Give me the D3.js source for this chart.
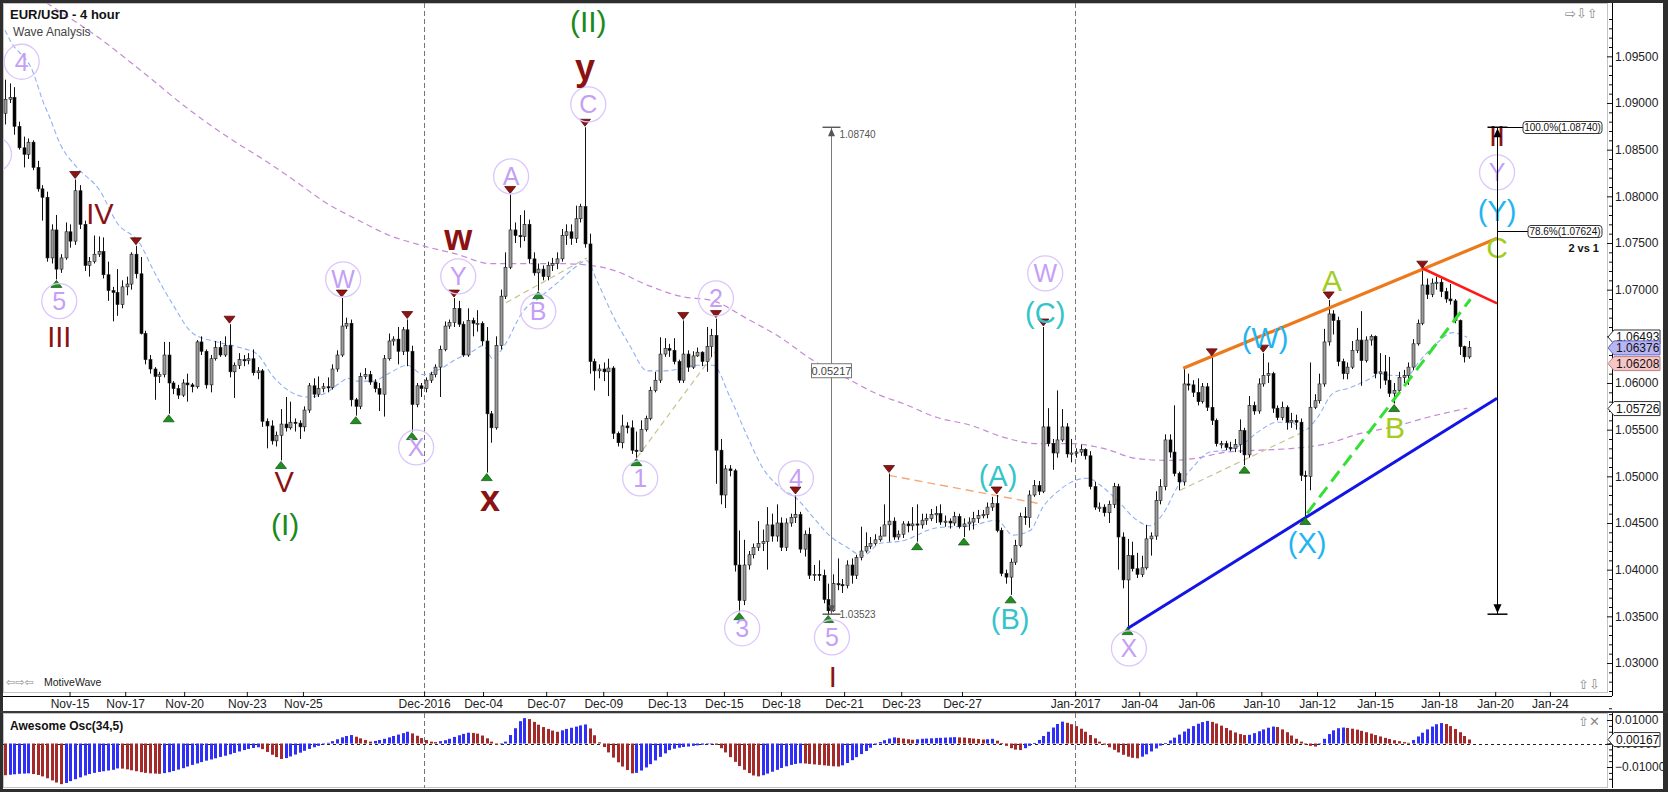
<!DOCTYPE html>
<html><head><meta charset="utf-8"><title>EUR/USD - 4 hour</title>
<script src="https://cdn.jsdelivr.net/npm/d3@7/dist/d3.min.js"></script>
<style>html,body{margin:0;padding:0;background:#fff;overflow:hidden}svg{display:block}</style>
</head><body><svg id="chart" width="1668" height="792"></svg>
<script>
// ---------------- DATA (prices in points above 1.0000, i.e. 904 = 1.0904) ----------------
const firstOpen = 889;
const closes = [
904,906,875,852,845,858,831,808,799,734,
764,722,734,762,752,806,770,726,730,738,
741,716,699,697,684,703,706,738,717,653,
625,615,607,609,630,600,594,587,600,598,
596,644,634,598,626,638,630,640,612,619,
625,624,626,611,613,559,554,538,544,556,
552,558,557,553,571,597,588,594,596,595,
615,630,661,664,582,575,607,609,601,594,
588,626,645,647,634,657,634,577,597,594,
603,609,617,636,661,665,680,663,630,667,
664,664,645,567,552,640,693,724,764,758,
757,770,733,718,722,714,726,728,733,758,
762,755,776,789,749,623,613,615,612,616,
546,536,554,552,528,527,550,562,592,603,
631,637,635,623,603,631,617,629,633,623,
639,651,528,480,508,506,405,367,405,416,
424,428,430,448,436,450,424,450,456,459,
422,438,394,395,394,368,356,385,384,383,
405,394,413,420,425,428,432,436,448,452,
435,438,449,447,449,448,453,455,459,460,
451,452,450,457,446,449,451,455,458,459,
467,471,442,396,392,408,426,457,456,480,
490,484,553,535,525,539,553,524,525,526,
529,522,489,467,467,461,470,489,435,389,
415,401,395,402,433,436,474,489,539,526,
503,494,599,598,590,580,596,574,560,535,
535,531,530,534,549,523,576,570,599,608,
610,573,563,574,558,560,558,501,500,574,
581,599,644,674,667,623,610,617,635,646,
624,646,650,610,612,603,589,592,606,608,
617,642,664,705,695,707,708,698,690,688,
667,639,628,638];
const highs = [
925,921,917,880,864,862,860,838,812,805,
770,780,738,772,770,818,812,774,735,758,
757,756,730,703,722,710,714,740,747,735,
656,630,617,612,644,644,602,598,604,610,
600,646,650,636,630,645,645,650,663,622,
632,630,632,636,617,615,562,560,548,572,
585,580,562,560,575,600,605,607,600,606,
620,635,691,670,668,584,611,616,613,604,
600,630,653,650,660,660,668,640,600,600,
606,612,620,640,666,668,691,688,666,680,
670,678,666,660,570,650,700,740,802,772,
780,785,775,740,728,726,730,734,740,765,
770,770,790,792,874,760,626,620,622,626,
618,548,566,558,560,548,560,565,596,612,
649,648,642,648,625,667,635,634,638,634,
660,658,669,540,512,512,508,442,432,420,
428,452,443,467,460,470,456,455,460,480,
462,442,445,405,410,400,385,395,412,390,
410,412,416,446,440,435,438,446,470,503,
456,442,452,452,467,470,460,460,465,468,
470,458,455,462,460,455,456,462,464,464,
472,478,480,445,400,412,432,461,467,485,
496,495,660,573,540,592,572,557,540,530,
534,530,527,494,472,470,474,493,492,440,
433,430,418,415,448,440,484,497,545,545,
576,505,615,610,603,605,600,600,628,562,
538,538,537,540,561,552,586,580,605,632,
622,612,576,580,576,568,566,562,506,622,
588,610,658,689,678,671,626,622,645,659,
677,650,652,651,632,630,628,600,612,614,
622,647,668,722,712,712,714,712,702,706,
690,668,640,645];
const lows = [
877,900,866,850,831,840,828,805,774,730,
728,711,718,732,745,748,765,720,714,728,
735,712,688,666,672,680,694,700,712,652,
620,610,582,600,606,567,588,583,585,580,
590,594,630,594,590,624,628,628,606,584,
615,618,620,608,604,553,530,534,532,517,
548,550,548,540,548,568,584,585,590,590,
593,612,628,658,575,565,572,604,598,590,
570,564,624,640,620,630,618,548,574,585,
590,600,606,585,634,658,660,660,628,628,
650,655,640,504,536,550,636,690,722,750,
745,752,728,715,699,710,710,720,722,730,
748,748,750,772,745,610,592,605,602,586,
540,532,530,546,524,520,526,548,560,590,
600,628,628,620,600,600,612,615,628,618,
612,628,492,470,466,500,398,355,362,400,
412,420,420,400,430,430,420,420,446,450,
418,414,390,388,388,364,352,355,378,375,
380,385,390,410,418,422,426,430,438,430,
432,432,434,440,442,430,444,448,452,450,
448,446,444,447,444,435,442,443,450,455,
455,463,440,393,385,373,405,424,448,445,
478,480,482,532,507,520,537,520,515,520,
522,518,486,464,462,457,450,466,400,380,
339,398,391,392,400,415,432,470,485,520,
500,485,490,592,585,576,578,570,555,532,
530,528,527,526,525,512,520,566,567,596,
600,568,560,560,550,552,550,495,457,485,
572,578,596,640,652,618,604,604,615,632,
597,622,640,605,594,598,585,578,590,600,
598,614,640,662,690,692,700,692,686,684,
664,630,622,626];
// Awesome Oscillator (34,5), in units of 0.001
const aoValues = [
-13.5,-13.3,-13.1,-12.9,-12.8,-12.7,-13.0,-13.4,-14.0,-14.8,
-15.7,-16.6,-17.3,-16.8,-16.0,-15.2,-14.4,-13.6,-13.0,-12.5,
-12.1,-11.8,-11.5,-11.2,-10.6,-10.7,-11.0,-11.4,-11.8,-12.2,
-12.5,-12.7,-12.8,-12.9,-12.6,-12.2,-11.7,-11.1,-10.5,-9.8,
-9.1,-8.5,-7.9,-7.3,-6.8,-6.3,-5.7,-5.2,-4.6,-4.0,
-3.4,-2.8,-2.3,-1.9,-1.6,-2.4,-3.6,-4.8,-5.8,-6.6,
-6.2,-5.5,-4.7,-3.9,-3.1,-2.3,-1.6,-1.0,-0.4,0.3,
1.0,1.8,2.6,3.2,3.6,2.9,2.2,1.5,0.8,1.1,
1.5,2.0,2.6,3.2,3.8,4.4,5.0,4.3,3.3,2.3,
1.5,0.8,0.6,1.0,1.4,2.0,2.8,3.5,4.1,4.6,
4.5,4.2,3.4,2.2,0.8,-0.6,-0.2,0.8,3.6,6.5,
9.5,10.8,10.4,9.2,8.0,7.0,6.2,5.5,5.0,5.6,
6.2,6.7,7.2,7.7,8.1,6.4,3.5,0.5,-1.5,-3.8,
-6.0,-8.0,-9.8,-11.3,-12.7,-12.5,-11.5,-10.2,-8.8,-7.2,
-5.7,-4.2,-2.8,-2.2,-1.8,-1.5,-1.3,-1.0,-0.8,-0.5,
-0.3,0.0,-0.6,-2.0,-3.8,-5.8,-7.8,-9.6,-11.2,-12.6,
-13.6,-14.0,-13.5,-12.8,-12.0,-11.2,-10.4,-9.7,-9.1,-8.7,
-8.4,-8.5,-8.7,-8.9,-9.1,-9.3,-9.5,-9.7,-9.8,-9.3,
-8.3,-7.1,-5.8,-4.5,-3.2,-1.8,-0.5,0.6,1.4,2.1,
2.6,2.4,2.1,1.8,1.6,1.8,2.0,2.1,2.2,2.3,
2.4,2.5,2.6,2.7,2.6,2.5,2.3,2.1,1.9,1.7,
1.8,2.0,1.2,0.2,-1.0,-2.0,-2.6,-2.8,-2.0,-1.0,
0.2,1.5,3.2,5.0,6.8,8.3,9.3,8.8,8.2,7.4,
6.3,5.0,3.6,2.2,0.8,-0.5,-1.6,-2.7,-3.8,-4.8,
-5.6,-6.1,-6.3,-5.6,-4.6,-3.4,-2.1,-0.9,0.2,1.3,
2.5,3.8,5.1,6.3,7.4,8.4,9.1,9.6,9.2,8.5,
7.6,6.6,5.6,4.7,4.0,3.6,3.7,4.4,5.2,6.0,
6.7,7.2,7.0,6.0,4.8,3.4,2.0,0.8,-0.4,-1.0,
-1.3,-0.2,2.0,4.0,5.6,6.5,6.8,6.6,6.3,5.9,
5.4,4.8,4.2,3.6,3.0,2.4,1.9,1.4,1.0,0.6,
0.3,1.5,3.0,4.6,6.0,7.2,8.2,8.7,8.3,7.4,
6.2,4.8,3.2,1.7];
// moving averages: [bar index, points]
const fastMA = [[0,978],[1.1,967],[6,933],[8.1,902],[9.6,884],[11.8,856],[15.4,831],[20.3,806],[23.9,772],[28.9,749],[31.6,722],[35.9,684],[40.2,653],[45.3,644],[50.2,638],[53.9,631],[57.3,607],[60.9,591],[64.6,585],[68,588],[71.6,600],[73.3,605],[75.3,602],[78.7,602],[82.3,611],[86,619],[89.4,609],[93,615],[96.6,626],[100,634],[102.2,640],[104.3,626],[106.5,638],[110.8,677],[114.4,692],[118,707],[121.4,722],[124.4,731],[126.6,709],[130,672],[133.6,640],[137.3,613],[140.7,613],[144.3,615],[148,619],[151.4,619],[155,585],[158.6,544],[162,509],[165.7,488],[169.3,476],[172.8,456],[176.4,436],[180,424],[183.4,415],[187,428],[192,431],[199.3,445],[206.3,447],[212.1,453],[215.5,437],[219.2,442],[221.9,467],[224.9,483],[227.7,493],[231.3,498],[234.8,488],[238.4,471],[242,453],[244.8,447],[247.6,460],[250.6,488],[254,510],[257.6,526],[261.3,528],[264.7,535],[268.3,549],[272,558],[275.4,557],[277.6,549],[280.6,563],[283.9,589],[287.6,595],[291.2,603],[294,610],[296.8,608],[299.8,608],[302.5,624],[306.2,643],[309.5,654],[312.6,649]];
const slowMA = [[0,1037],[9,1007],[20.3,969],[29.5,933],[39.6,892],[48.7,860],[56,837],[63,813],[68,795],[75.3,775],[82.3,758],[89.4,747],[96.6,738],[103.7,728],[110.8,728],[118,728],[123,727],[130,721],[137.3,705],[144.3,693],[151.4,688],[158.6,669],[165.7,649],[172.8,624],[180,605],[187,587],[192,578],[199.3,563],[206.3,555],[213.4,542],[220.7,535],[227.7,535],[234.8,530],[242,519],[249,517],[254,519],[261.3,526],[268.3,528],[275.4,530],[282.7,535],[289.8,546],[296.8,553],[304,563],[312.6,573]];
// time axis
const dateTickIdx = [13.8,25.7,38.3,51.7,63.7,89.6,102.2,115.7,127.9,141.5,153.7,165.9,179.4,191.6,204.6,228.8,242.5,254.7,268.6,280.5,292.9,306.6,318.6,330.3];
const dateTickLbl = ["Nov-15","Nov-17","Nov-20","Nov-23","Nov-25","Dec-2016","Dec-04","Dec-07","Dec-09","Dec-13","Dec-15","Dec-18","Dec-21","Dec-23","Dec-27","Jan-2017","Jan-04","Jan-06","Jan-10","Jan-12","Jan-15","Jan-18","Jan-20","Jan-24"];
const periodBreaks = ["Dec-2016","Jan-2017"];
const priceTicks = [1.03,1.035,1.04,1.045,1.05,1.055,1.06,1.065,1.07,1.075,1.08,1.085,1.09,1.095];
const oscTicks = [-0.01,0,0.01];
// swing markers (bar indices)
const highMarks = [15,28,48,72,86,96,108,124,145,152,169,189,212,222,258,269,283,303];
const lowMarks = [11,35,59,75,87,103,114,135,157,176,195,205,215,240,265,278,297];
// wave labels: [text, bar index, points]
const wavesCircled = [["4",3.57,944.2],["5",11.6,687.8],["W",72.3,711.1],["X",87.9,531.1],["Y",96.9,714.3],["A",108.2,821.4],["B",114,676.8],["C",124.7,898.6],["1",135.8,497.9],["2",152,690.7],["3",157.6,337.2],["4",169.1,497.9],["5",176.8,327.5],["W",222.4,717.5],["X",240.3,315.7],["Y",319,825.7]];
const circleOnly = [[-2.35,845]]; // label circle cut by the left edge
const wavesPrimary = [["III",11.6,649.6],["IV",20.3,781.8],["V",59.7,494.7],["I",177,285.7],["II",319,865.4]];
const wavesMinorLower = [["w",96.9,752.9],["x",103.7,473.2],["y",124,935]];
const wavesCycle = [["(I)",59.9,448.6],["(II)",124.7,987.5]];
const wavesABC = [["(A)",212.3,501.1],["(B)",214.9,347.9],["(C)",222.4,675.7]];
const wavesWXY = [["(W)",269.4,648.9],["(X)",278.4,429.3],["(Y)",319,785]];
const wavesSub = [["A",283.7,710],["B",297.2,552.5],["C",319,745.4]];
// trend lines: [[i1,p1],[i2,p2]]
const lineUpper = [[251.9,615.7],[319,755]];
const lineRed = [[303,722.9],[319,685.3]];
const lineGreen = [[278.4,460.4],[313.3,689.7]];
const lineBlue = [[240,337],[319,583.6]];
const tanLines = [[[107.1,686],[124.4,734]],[[135.1,520],[152.4,637]],[[251.2,485],[276.9,546]]];
const salmonLine = [[189,501],[220.9,471]];
// measurements
const measureIdx = 176.6, measureTop = 1.08740, measureBot = 1.03523, measureText = "0.05217";
const projIdx = 319;
const fibLevels = [{lbl:"100.0%(1.08740)", v:1.08740},{lbl:"78.6%(1.07624)", v:1.07624}];
const rightPriceVals = [1.06493,1.06376,1.06208,1.05726];
const oscLastVal = 0.00167;

// ---------------- DRAWING ----------------
const FONT = '"Liberation Sans", Arial, Helvetica, sans-serif';
const svg = d3.select("#chart").style("font-family", FONT);
const P = v => 1 + v / 10000;
const N = closes.length;
const x = d3.scaleLinear().domain([0, N - 1]).range([5, 1469]);
const y = d3.scaleLinear().domain([1.03, 1.095]).range([663, 56.33]);
const yo = d3.scaleLinear().domain([-0.01, 0.01]).range([767, 720]);
const PL = 3, PR = 1607, PT = 3, PB = 692, AX = 1612, XA = 696, OT = 713, OB = 788;

svg.append("rect").attr("width", 1668).attr("height", 792).attr("fill", "#fff");
const defs = svg.append("defs");
defs.append("clipPath").attr("id", "clipP").append("rect").attr("x", PL).attr("y", PT).attr("width", PR - PL).attr("height", PB - PT);
defs.append("clipPath").attr("id", "clipO").append("rect").attr("x", PL).attr("y", OT).attr("width", PR - PL).attr("height", OB - OT);

// frames
svg.append("rect").attr("x", PL + 0.5).attr("y", PT + 0.5).attr("width", PR - PL).attr("height", PB - PT).attr("fill", "none").attr("stroke", "#c4c4c4");
svg.append("rect").attr("x", PL + 0.5).attr("y", OT + 0.5).attr("width", PR - PL).attr("height", OB - OT - 1).attr("fill", "none").attr("stroke", "#c4c4c4");

const gP = svg.append("g").attr("clip-path", "url(#clipP)");
const gO = svg.append("g").attr("clip-path", "url(#clipO)");

// period separators
periodBreaks.forEach(lbl => {
  const xi = Math.round(x(dateTickIdx[dateTickLbl.indexOf(lbl)])) + 0.5;
  gP.append("line").attr("x1", xi).attr("x2", xi).attr("y1", PT).attr("y2", PB).attr("stroke", "#777").attr("stroke-dasharray", "5,3");
  gO.append("line").attr("x1", xi).attr("x2", xi).attr("y1", OT).attr("y2", OB).attr("stroke", "#777").attr("stroke-dasharray", "5,3");
});

// moving averages
const maLine = d3.line().x(d => x(d[0])).y(d => y(P(d[1]))).curve(d3.curveMonotoneX);
gP.append("path").attr("d", maLine(slowMA)).attr("fill", "none").attr("stroke", "#c68ad6").attr("stroke-width", 1.2).attr("stroke-dasharray", "6,4");
gP.append("path").attr("d", maLine(fastMA)).attr("fill", "none").attr("stroke", "#8fb1f4").attr("stroke-width", 1.1).attr("stroke-dasharray", "5,3");

// thin dashed helper lines
const seg = (g, pts, col, w, dash) => g.append("line")
  .attr("x1", x(pts[0][0])).attr("y1", y(P(pts[0][1]))).attr("x2", x(pts[1][0])).attr("y2", y(P(pts[1][1])))
  .attr("stroke", col).attr("stroke-width", w).attr("stroke-dasharray", dash || null);
tanLines.forEach(l => seg(gP, l, "#c9c28e", 1.2, "6,4"));
seg(gP, salmonLine, "#f5a878", 1.4, "8,5");

// candles
const bars = closes.map((c, i) => ({ i, o: i ? closes[i - 1] : firstOpen, c, h: highs[i], l: lows[i] }));
const gC = gP.append("g");
gC.selectAll("line.wick").data(bars).join("line").attr("class", "wick")
  .attr("x1", d => Math.round(x(d.i)) + 0.5).attr("x2", d => Math.round(x(d.i)) + 0.5)
  .attr("y1", d => y(P(Math.max(d.h, d.o, d.c)))).attr("y2", d => y(P(Math.min(d.l, d.o, d.c))))
  .attr("stroke", "#111").attr("stroke-width", 1);
gC.selectAll("rect.body").data(bars).join("rect").attr("class", "body")
  .attr("x", d => Math.round(x(d.i)) - 1).attr("width", 3)
  .attr("y", d => y(P(Math.max(d.o, d.c))))
  .attr("height", d => Math.max(1.2, Math.abs(y(P(d.o)) - y(P(d.c)))))
  .attr("fill", d => d.c >= d.o ? "#9c9c9c" : "#000").attr("stroke", "#1a1a1a").attr("stroke-width", 0.6);

// trend lines
seg(gP, lineBlue, "#1414e6", 3);
seg(gP, lineUpper, "#ec7a1c", 3.2);
seg(gP, lineRed, "#ff1a1a", 2.6);
seg(gP, lineGreen, "#35e035", 3, "13,7");

// swing markers
const gM = gP.append("g");
gM.selectAll("path.hi").data(highMarks).join("path").attr("class", "hi")
  .attr("d", i => { const cx = x(i), cy = y(P(highs[i])) - 1; return `M${cx - 5.5},${cy - 7}L${cx + 5.5},${cy - 7}L${cx},${cy}Z`; })
  .attr("fill", "#8e1414").attr("stroke", "#4a0000").attr("stroke-width", 0.7);
gM.selectAll("path.lo").data(lowMarks).join("path").attr("class", "lo")
  .attr("d", i => { const cx = x(i), cy = y(P(lows[i])) + 1; return `M${cx - 5.5},${cy + 7}L${cx + 5.5},${cy + 7}L${cx},${cy}Z`; })
  .attr("fill", "#1f8f1f").attr("stroke", "#0b4f0b").attr("stroke-width", 0.7);

// measurement (wave I length)
{
  const mx = Math.round(x(measureIdx)) + 0.5, y1 = y(measureTop), y2 = y(measureBot);
  const g = gP.append("g");
  g.append("line").attr("x1", mx).attr("x2", mx).attr("y1", y1).attr("y2", y2).attr("stroke", "#7a7a7a");
  g.append("line").attr("x1", mx - 9).attr("x2", mx + 9).attr("y1", y1).attr("y2", y1).attr("stroke", "#555").attr("stroke-width", 1.4);
  g.append("line").attr("x1", mx - 9).attr("x2", mx + 9).attr("y1", y2).attr("y2", y2).attr("stroke", "#555").attr("stroke-width", 1.4);
  g.append("path").attr("d", `M${mx - 3.5},${y1 + 9}L${mx + 3.5},${y1 + 9}L${mx},${y1 + 1}Z`).attr("fill", "#555");
  g.append("path").attr("d", `M${mx - 3.5},${y2 - 9}L${mx + 3.5},${y2 - 9}L${mx},${y2 - 1}Z`).attr("fill", "#555");
  g.append("text").attr("x", mx + 8).attr("y", y1 + 11).attr("font-size", 10).attr("fill", "#555").text(measureTop.toFixed(5));
  g.append("text").attr("x", mx + 8).attr("y", y2 + 4).attr("font-size", 10).attr("fill", "#555").text(measureBot.toFixed(5));
  const ym = (y1 + y2) / 2;
  g.append("rect").attr("x", mx - 20).attr("y", ym - 7).attr("width", 40).attr("height", 14).attr("fill", "#fff").attr("stroke", "#777");
  g.append("text").attr("x", mx).attr("y", ym + 4).attr("text-anchor", "middle").attr("font-size", 11).attr("fill", "#444").text(measureText);
}

// projection
{
  const px = Math.round(x(projIdx)) + 0.5, y1 = y(measureTop), y2 = y(measureBot);
  const g = svg.append("g");
  g.append("line").attr("x1", px).attr("x2", px).attr("y1", y1).attr("y2", y2).attr("stroke", "#000");
  g.append("line").attr("x1", px - 10).attr("x2", px + 10).attr("y1", y1).attr("y2", y1).attr("stroke", "#000").attr("stroke-width", 1.5);
  g.append("line").attr("x1", px - 10).attr("x2", px + 10).attr("y1", y2).attr("y2", y2).attr("stroke", "#000").attr("stroke-width", 1.5);
  g.append("path").attr("d", `M${px - 4},${y1 + 10}L${px + 4},${y1 + 10}L${px},${y1 + 1}Z`).attr("fill", "#000");
  g.append("path").attr("d", `M${px - 4},${y2 - 10}L${px + 4},${y2 - 10}L${px},${y2 - 1}Z`).attr("fill", "#000");
  fibLevels.forEach((f, k) => {
    const fy = Math.round(y(f.v)) + 0.5;
    const bw = k === 0 ? 79 : 74, bx = 1602 - bw;
    g.append("line").attr("x1", px).attr("x2", bx).attr("y1", fy).attr("y2", fy).attr("stroke", "#000");
    g.append("rect").attr("x", bx).attr("y", fy - 6).attr("width", bw).attr("height", 12).attr("rx", 3).attr("fill", "#fff").attr("stroke", "#333");
    g.append("text").attr("x", bx + bw / 2).attr("y", fy + 3.5).attr("text-anchor", "middle").attr("font-size", 10).attr("fill", "#111").text(f.lbl);
  });
  g.append("text").attr("x", 1599).attr("y", y(fibLevels[1].v) + 21).attr("text-anchor", "end").attr("font-size", 11).attr("font-weight", "bold").attr("fill", "#111").text("2 vs 1");
}

// wave labels
const gL = gP.append("g");
function labels(arr, fill, size, weight, lower) {
  arr.forEach(([t, i, p]) => {
    const cx = x(i), cy = y(P(p));
    gL.append("text").attr("x", cx).attr("y", cy + (lower ? 0.26 : 0.36) * size)
      .attr("text-anchor", "middle").attr("font-size", size).attr("font-weight", weight || "normal")
      .attr("fill", fill).text(t);
  });
}
wavesCircled.map(d => [d[1], d[2]]).concat(circleOnly).forEach(([i, p]) => {
  gL.append("circle").attr("cx", x(i)).attr("cy", y(P(p))).attr("r", 17.5).attr("fill", "none").attr("stroke", "#dcc6fb").attr("stroke-width", 1.3);
});
labels(wavesCircled, "#c59ff6", 25);
labels(wavesPrimary, "#8b1212", 29);
labels(wavesMinorLower, "#8b1212", 36, "bold", true);
labels(wavesCycle, "#1b8a1b", 30);
labels(wavesABC, "#35c4c9", 29);
labels(wavesWXY, "#1fb4f2", 29);
labels(wavesSub, "#a3cc1e", 30);

// oscillator
gO.append("line").attr("x1", PL).attr("x2", AX).attr("y1", Math.round(yo(0)) + 0.5).attr("y2", Math.round(yo(0)) + 0.5).attr("stroke", "#222").attr("stroke-dasharray", "3,3");
gO.selectAll("rect.ao").data(aoValues.map((v, i) => ({ i, v, up: i > 0 && v > aoValues[i - 1] }))).join("rect").attr("class", "ao")
  .attr("x", d => Math.round(x(d.i)) - 1).attr("width", 3)
  .attr("y", d => Math.min(yo(0), yo(d.v / 1000)))
  .attr("height", d => Math.max(0.8, Math.abs(yo(d.v / 1000) - yo(0))))
  .attr("fill", d => d.up ? "#2f2ff5" : "#a42a2a");
svg.append("line").attr("x1", PR).attr("x2", AX).attr("y1", Math.round(yo(0)) + 0.5).attr("y2", Math.round(yo(0)) + 0.5).attr("stroke", "#222").attr("stroke-dasharray", "3,3");
svg.append("text").attr("x", 10).attr("y", 730).attr("font-size", 12).attr("font-weight", "bold").attr("fill", "#111").text("Awesome Osc(34,5)");

// axes
function styleAxis(g) {
  g.select(".domain").remove();
  g.selectAll("text").attr("font-family", FONT).attr("font-size", 12).attr("fill", "#222");
  g.selectAll(".tick line").attr("stroke", "#111");
}
const minorVals = d3.range(1027, 1101).map(v => v / 1000).filter(v => Math.round(v * 1000) % 5 !== 0);
svg.append("g").attr("transform", `translate(${AX},0)`)
  .call(d3.axisRight(y).tickValues(minorVals).tickSizeInner(-3).tickFormat(""))
  .call(styleAxis);
svg.append("g").attr("transform", `translate(${AX},0)`)
  .call(d3.axisRight(y).tickValues(priceTicks).tickSizeInner(-5).tickPadding(3).tickFormat(d3.format(".5f")))
  .call(styleAxis);
svg.append("g").attr("transform", `translate(0,${XA})`)
  .call(d3.axisBottom(x).tickValues(dateTickIdx).tickSizeInner(-4).tickPadding(3).tickFormat((d, k) => dateTickLbl[k]))
  .call(styleAxis);
svg.append("g").attr("transform", `translate(${AX},0)`)
  .call(d3.axisRight(yo).tickValues(d3.range(-0.015, 0.0151, 0.0025)).tickSizeInner(-3).tickFormat(""))
  .call(styleAxis);
svg.append("g").attr("transform", `translate(${AX},0)`)
  .call(d3.axisRight(yo).tickValues(oscTicks).tickSizeInner(-5).tickPadding(3).tickFormat(d3.format(".5f")))
  .call(styleAxis);

// axis lines
svg.append("line").attr("x1", AX + 0.5).attr("x2", AX + 0.5).attr("y1", PT).attr("y2", XA).attr("stroke", "#000");
svg.append("line").attr("x1", AX + 0.5).attr("x2", AX + 0.5).attr("y1", OT).attr("y2", OB).attr("stroke", "#000");
svg.append("line").attr("x1", PL).attr("x2", AX).attr("y1", XA + 0.5).attr("y2", XA + 0.5).attr("stroke", "#000");

// right-side price boxes
const boxStyles = [{ f: "#fff", s: "#333", t: "#111" }, { f: "#b7b5f2", s: "#6a66c8", t: "#111" }, { f: "#f6c6c6", s: "#c08080", t: "#111" }, { f: "#fff", s: "#333", t: "#111" }];
function priceBox(yc, txt, st) {
  const xl = 1608, xr = 1660;
  svg.append("path").attr("d", `M${xl},${yc}L${xl + 6},${yc - 7}L${xr},${yc - 7}L${xr},${yc + 7}L${xl + 6},${yc + 7}Z`)
    .attr("fill", st.f).attr("stroke", st.s);
  svg.append("text").attr("x", xl + 8).attr("y", yc + 4.5).attr("font-size", 12).attr("fill", st.t).text(txt);
}
rightPriceVals.forEach((v, k) => priceBox(y(v), v.toFixed(5), boxStyles[k]));
priceBox(yo(oscLastVal), oscLastVal.toFixed(5), boxStyles[0]);

// borders & chrome
svg.append("rect").attr("x", 0).attr("y", 0).attr("width", 1668).attr("height", 3).attr("fill", "#2e2e2e");
svg.append("rect").attr("x", 0).attr("y", 0).attr("width", 3).attr("height", 792).attr("fill", "#2e2e2e");
svg.append("rect").attr("x", 1663).attr("y", 0).attr("width", 5).attr("height", 792).attr("fill", "#2e2e2e");
svg.append("rect").attr("x", 0).attr("y", 789).attr("width", 1668).attr("height", 3).attr("fill", "#2e2e2e");
svg.append("rect").attr("x", 0).attr("y", 711).attr("width", 1668).attr("height", 2).attr("fill", "#3a3a3a");

// titles & icons
svg.append("text").attr("x", 10).attr("y", 19).attr("font-size", 13).attr("font-weight", "bold").attr("fill", "#111").text("EUR/USD - 4 hour");
svg.append("text").attr("x", 13).attr("y", 36).attr("font-size", 12).attr("fill", "#444").text("Wave Analysis");
const icon = (xx, yy, t, sz) => svg.append("text").attr("x", xx).attr("y", yy).attr("font-family", "DejaVu Sans").attr("font-size", sz || 13).attr("fill", "#8a8a8a").text(t);
icon(1565, 18, "\u21E8\u21E9\u21E7");
icon(1578, 689, "\u21E7\u21E9");
icon(1578, 726, "\u21E7\u2715");
icon(6, 686, "\u21E6\u21E8\u21E6", 11);
svg.append("text").attr("x", 44).attr("y", 686).attr("font-size", 10.5).attr("fill", "#222").text("MotiveWave");
</script></body></html>
